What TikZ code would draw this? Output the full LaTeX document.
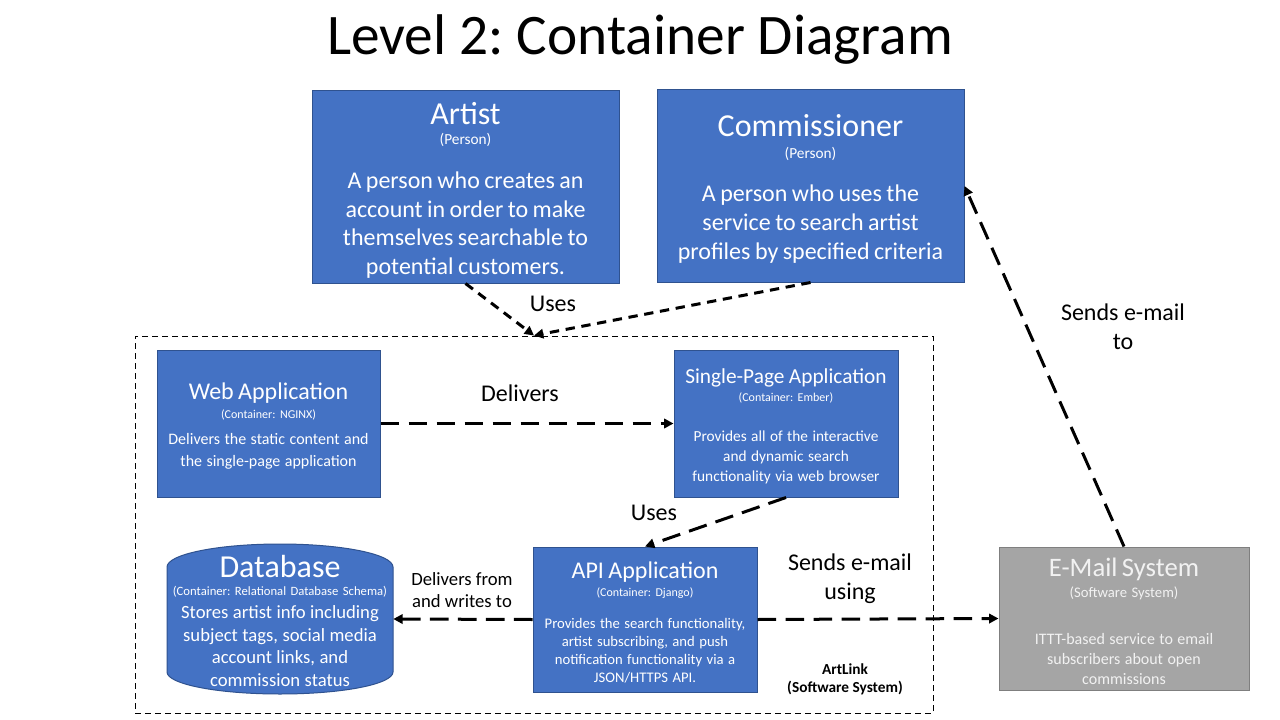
\documentclass[tikz,border=0pt]{standalone}
\usepackage{fontspec}
\setmainfont{Carlito}
\usetikzlibrary{arrows.meta}
\definecolor{boxblue}{HTML}{4472C4}
\definecolor{boxedge}{HTML}{2F528F}
\definecolor{boxgray}{HTML}{A5A5A5}
\definecolor{grayedge}{HTML}{7F7F7F}
\definecolor{lighttext}{HTML}{F2F2F2}
\newcommand\tp[3]{{\fontsize{#1}{#2}\selectfont #3\par}}
\setlength\parindent{0pt}
\frenchspacing
\tikzset{
 bluebox/.style={draw=boxedge, fill=boxblue, line width=0.75pt, inner sep=0pt},
 graybox/.style={draw=grayedge, fill=boxgray, line width=0.75pt, inner sep=0pt},
 dbshape/.style={draw=boxedge, fill=boxblue, line width=0.75pt},
 boxtext/.style={text=white, inner sep=0pt, align=center},
 graytext/.style={text=lighttext, inner sep=0pt, align=center},
 boundary/.style={draw=black, line width=0.75pt, dash pattern=on 4.5pt off 3pt, inner sep=0pt},
 connlong/.style={draw=black, line width=2.25pt, dash pattern=on 14pt off 7pt, -{Triangle[length=7pt,width=7pt]}},
 connshort/.style={draw=black, line width=2.25pt, dash pattern=on 7pt off 5pt, -{Triangle[length=7pt,width=7pt]}},
 lbl/.style={align=center, inner sep=0pt, text=black, font=\fontsize{18}{22}\selectfont},
}
\begin{document}
\begin{tikzpicture}[x=0.75pt,y=0.75pt]
\fill[white] (0,0) rectangle (1280,-720);
\useasboundingbox (0,0) rectangle (1280,-720);

\node[anchor=base, font=\fontsize{43}{52}\selectfont] (title) at (640,-55) {Level 2: Container Diagram};

\node[boundary, minimum width=598.5pt, minimum height=282.75pt] (sys) at (534,-524.5) {};

% Artist
\node[bluebox, minimum width=230.25pt, minimum height=144pt] (artist) at (465.5,-187) {};
\node[boxtext, text width=230.25pt] (artistT) at ([yshift=-2.25pt]artist.center) {%
\tp{24}{29}{Artist}%
\tp{11.5}{15}{(Person)}%
\vspace{12pt}%
\tp{18}{21.4}{A person who creates an\\account in order to make\\themselves searchable to\\potential customers.}};

% Commissioner
\node[bluebox, minimum width=230.25pt, minimum height=144pt] (comm) at (810.5,-186) {};
\node[boxtext, text width=230.25pt] (commT) at ([yshift=-2.25pt]comm.center) {%
\tp{24}{29}{Commissioner}%
\tp{11.5}{16.5}{(Person)}%
\vspace{10pt}%
\tp{18}{21.75}{A person who uses the\\service to search artist\\profiles by specified criteria}};

% Web Application
\node[bluebox, minimum width=167.25pt, minimum height=110.25pt] (web) at (268.5,-423.5) {};
\node[boxtext, text width=167.25pt] (webT) at ([yshift=-2pt]web.center) {%
\tp{18}{22}{Web Application}%
\tp{9}{14}{(Container: NGINX)}%
\vspace{3.5pt}%
\tp{12}{16.5}{Delivers the static content and\\the single-page application}};

% Single-Page Application
\node[bluebox, minimum width=168pt, minimum height=110.25pt] (spa) at (786,-423.5) {};
\node[boxtext, text width=168pt] (spaT) at ([yshift=-2.25pt]spa.center) {%
\tp{16}{20}{Single-Page Application}%
\tp{9}{13.5}{(Container: Ember)}%
\vspace{15pt}%
\tp{11.5}{15}{Provides all of the interactive\\and dynamic search\\functionality via web browser}};

% API Application
\node[bluebox, minimum width=168pt, minimum height=108.75pt] (api) at (645,-619.5) {};
\node[boxtext, text width=168pt] (apiT) at ([yshift=-2pt]api.center) {%
\tp{18}{22}{API Application}%
\tp{9}{13.5}{(Container: Django)}%
\vspace{10.5pt}%
\tp{11}{13.5}{Provides the search functionality,\\artist subscribing, and push\\notification functionality via a\\JSON/HTTPS API.}};

% E-Mail System
\node[graybox, minimum width=187.5pt, minimum height=107.25pt] (email) at (1124,-618.5) {};
\node[graytext, text width=187.5pt] (emailT) at ([yshift=-2.25pt]email.center) {%
\tp{20}{24}{E-Mail System}%
\tp{11}{15.75}{(Software System)}%
\vspace{20pt}%
\tp{12}{15}{ITTT-based service to email\\subscribers about open\\commissions}};

% Database
\path[dbshape] (167,-567) -- (167,-672) arc[start angle=180,end angle=360,x radius=113,y radius=22]
  -- (393,-567) arc[start angle=0,end angle=180,x radius=113,y radius=23] -- cycle;
\node[boxtext, text width=169.5pt, minimum height=112.5pt] (db) at (280,-619) {};
\node[boxtext, text width=169.5pt] (dbT) at ([yshift=-1.5pt]db.center) {%
\tp{24}{29}{Database}%
\tp{9.5}{13.5}{(Container: Relational Database Schema)}%
\tp{14}{17}{Stores artist info including\\subject tags, social media\\account links, and\\commission status}};

\node[lbl] (usesA) at (553,-304) {Uses};
\node[lbl] (deliv) at (520,-393) {Delivers};
\node[lbl] (usesB) at (654,-513) {Uses};
\node[lbl, font=\fontsize{14}{17}\selectfont] (dfw) at (462,-590) {Delivers from\\and writes to};
\node[lbl] (seu) at (850,-579) {Sends e-mail\\using};
\node[lbl] (set) at (1123,-327) {Sends e-mail\\to};
\node[lbl, font=\fontsize{11.5}{13.5}\selectfont\bfseries] (artlink) at (845,-679) {ArtLink\\(Software System)};

\draw[connshort] (artist.south) -- (sys.north);
\draw[connshort] (comm.south) -- (sys.north);
\draw[connlong] (web.east) -- (spa.west);
\draw[connlong] (spa.south) -- (api.north);
\draw[connlong] (api.west) -- (db.east);
\draw[connlong] (api.east) -- (email.west);
\draw[connlong] (email.north) -- (comm.east);
\end{tikzpicture}
\end{document}
